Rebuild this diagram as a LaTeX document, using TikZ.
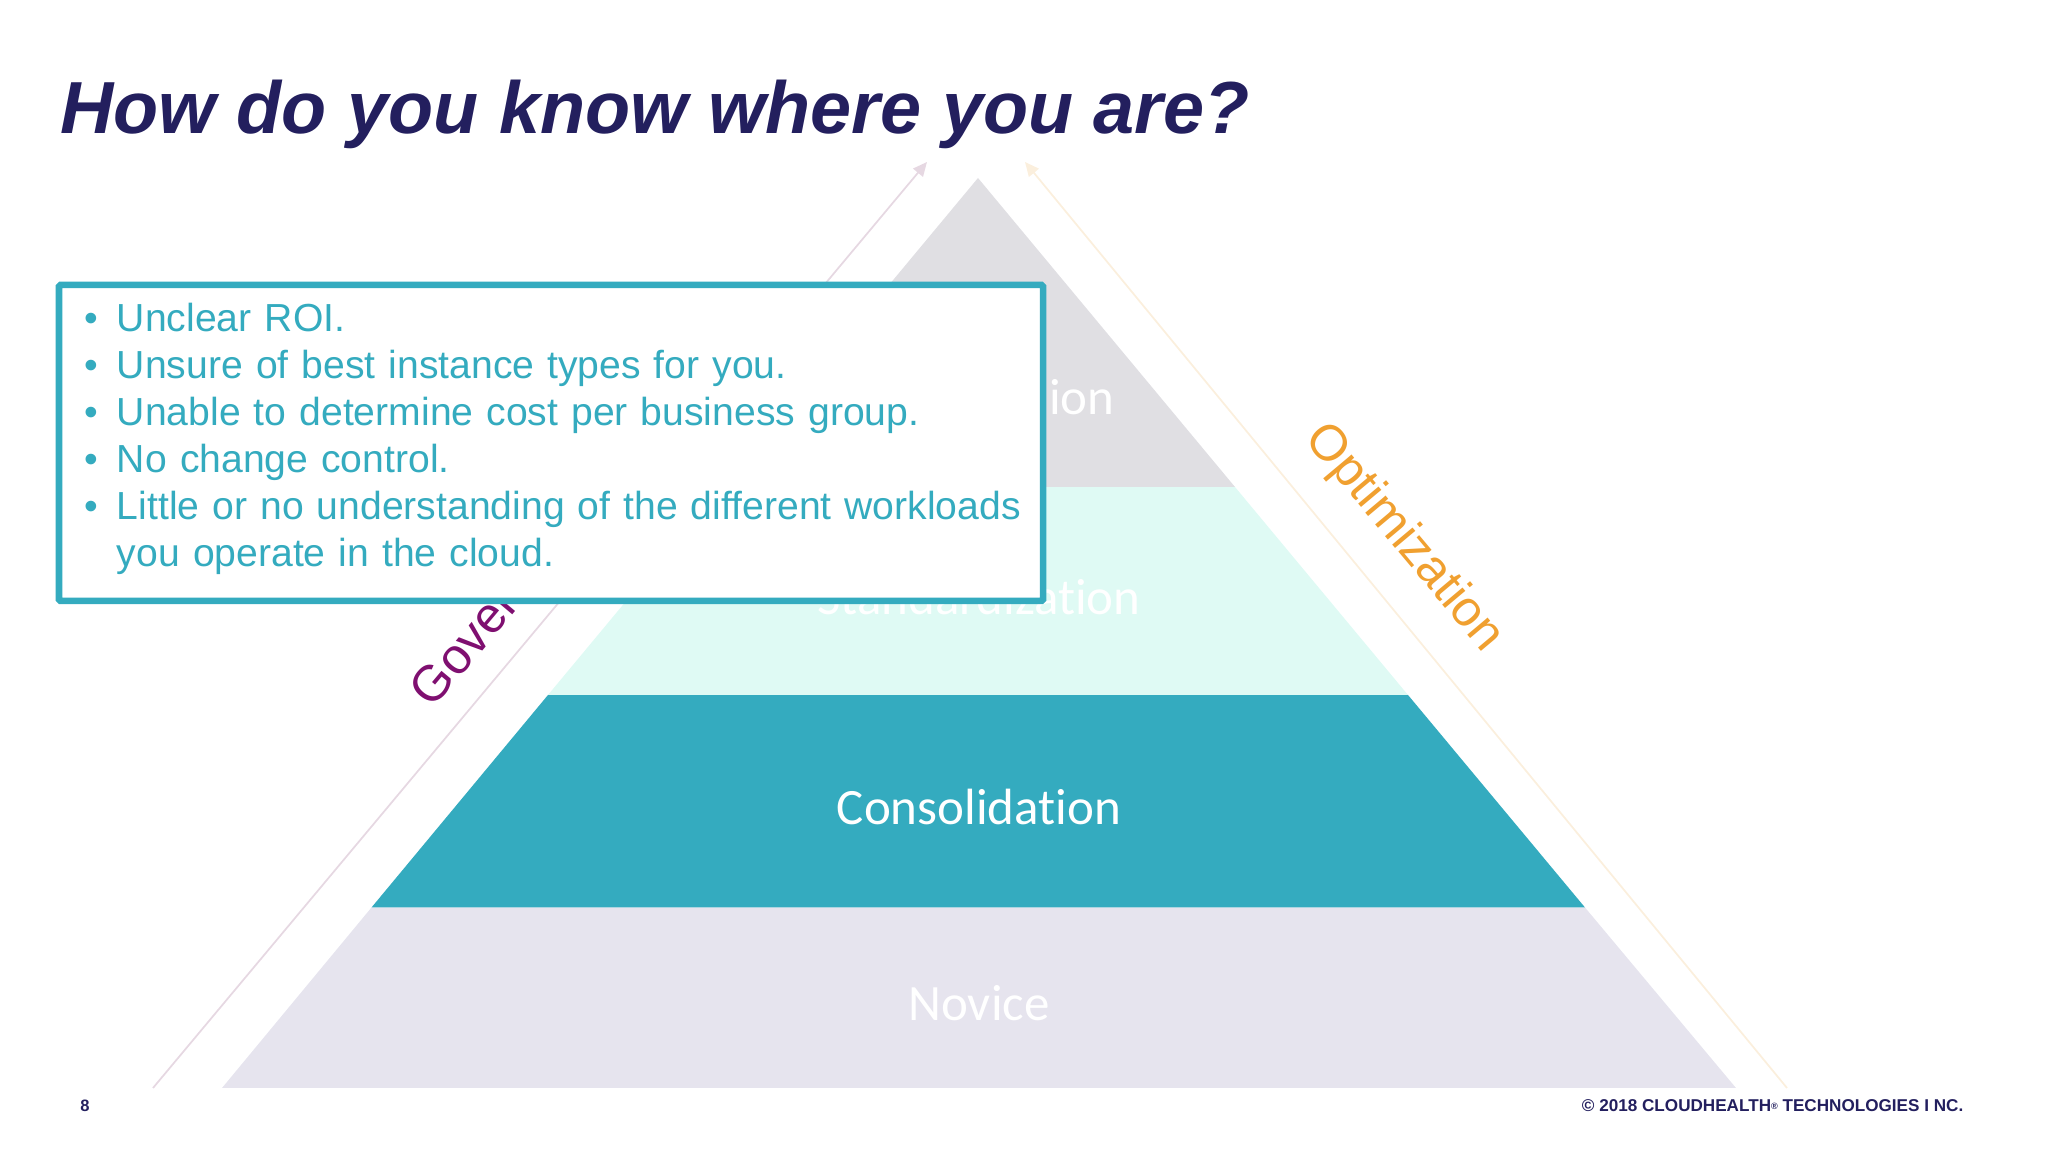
\documentclass[tikz,border=0pt]{standalone}
\usepackage{xcolor}
\usepackage{fontspec}
\usepackage{tikz}
\setmainfont{Liberation Sans}
\newfontfamily\tierfont[Ligatures=CommonOff]{Carlito}
\usetikzlibrary{positioning, arrows.meta}

\definecolor{navy}{HTML}{231F5E}
\definecolor{teal}{HTML}{34ABBF}
\definecolor{mint}{HTML}{DFFAF4}
\definecolor{lilac}{HTML}{E6E4EE}
\definecolor{greytop}{HTML}{E0DFE3}
\definecolor{plum}{HTML}{7F0F70}
\definecolor{amber}{HTML}{F0A030}
\definecolor{plumline}{HTML}{E6D8E2}
\definecolor{amberline}{HTML}{FBEFDD}

\newcommand{\noteitem}{\hspace*{0.26cm}\makebox[0.32cm][l]{\textbullet}}

\tikzset{
	tier/.style={text=white, font=\tierfont\fontsize{14.5pt}{17pt}\selectfont},
	side/.style={anchor=base west, font=\rmfamily\fontsize{14.3pt}{18pt}\selectfont},
	sidearrow/.style={line width=0.5pt, -{Triangle[length=4pt, width=3.6pt]}},
	notebox/.style={draw=teal, line width=1.85pt, fill=white, rounded corners=0.4pt,
		text=teal, text width=9.84cm, minimum height=3.16cm, inner sep=0pt, outer sep=0pt, align=left,
		font=\fontsize{11.13pt}{13.37pt}\selectfont}
}

\begin{document}
\begin{tikzpicture}
			\useasboundingbox (0, 0) rectangle (20.48, 11.52);
			
			% pyramid
			\fill[lilac] (2.22, 0.64) -- (17.36, 0.64) -- (15.85, 2.445) -- (3.715, 2.445) -- cycle;
			\fill[teal] (3.715, 2.445) -- (15.85, 2.445) -- (14.08, 4.57) -- (5.48, 4.57) -- cycle;
			\fill[mint] (5.48, 4.57) -- (14.08, 4.57) -- (12.35, 6.65) -- (7.21, 6.65) -- cycle;
			\fill[greytop] (7.21, 6.65) -- (12.35, 6.65) -- (9.78, 9.74) -- cycle;
			
			\node[tier] (novice)   at (9.79, 1.49)  {Novice};
			\node[tier] (consol)   at (9.79, 3.45)  {Consolidation};
			\node[tier] (standard) at (9.79, 5.55)  {Standardization};
			\node[tier, anchor=east] (top) at (11.27, 7.55)  {ion};
			
			% side arrows
			\coordinate (govstart) at (1.53, 0.64);
			\coordinate (govend)   at (9.27, 9.90);
			\coordinate (optstart) at (17.87, 0.64);
			\coordinate (optend)   at (10.25, 9.90);
			\draw[sidearrow, plumline] (govstart) -- (govend);
			\draw[sidearrow, amberline] (optstart) -- (optend);
			
			\node[side, text=plum, rotate=50] (gov)   at (4.25, 4.33)  {Gover};
			\node[side, text=amber, rotate=-50] (opt) at (12.96, 7.22)  {Optimization};
			
			% note over the pyramid
			\node[notebox, anchor=north west] (note) at (0.59, 8.67) {%
				\noteitem Unclear ROI.\\
				\noteitem Unsure of best instance types for you.\\
				\noteitem Unable to determine cost per business group.\\
				\noteitem No change control.\\
				\noteitem Little or no understanding of the different workloads\\
				\hspace*{0.58cm}you operate in the cloud.\par\vspace{0.08cm}};
			
			\node[anchor=base west, text=navy, font=\bfseries\itshape\fontsize{21pt}{25pt}\selectfont] (title)
				at (0.48, 10.18)  {How do you know where you are?};
			
			% footer
			\node[anchor=center, text=navy, font=\bfseries\fontsize{4.7pt}{6pt}\selectfont] (page) at (0.85, 0.46)  {8};
			\node[anchor=east, text=navy, inner sep=0pt, font=\bfseries\fontsize{4.87pt}{6pt}\selectfont] (copy)
				at (19.64, 0.46)  {© 2018 CLOUDHEALTH\raisebox{0.6pt}{\fontsize{2.6pt}{3pt}\selectfont ®} TECHNOLOGIES I NC.};
		\end{tikzpicture}
\end{document}
